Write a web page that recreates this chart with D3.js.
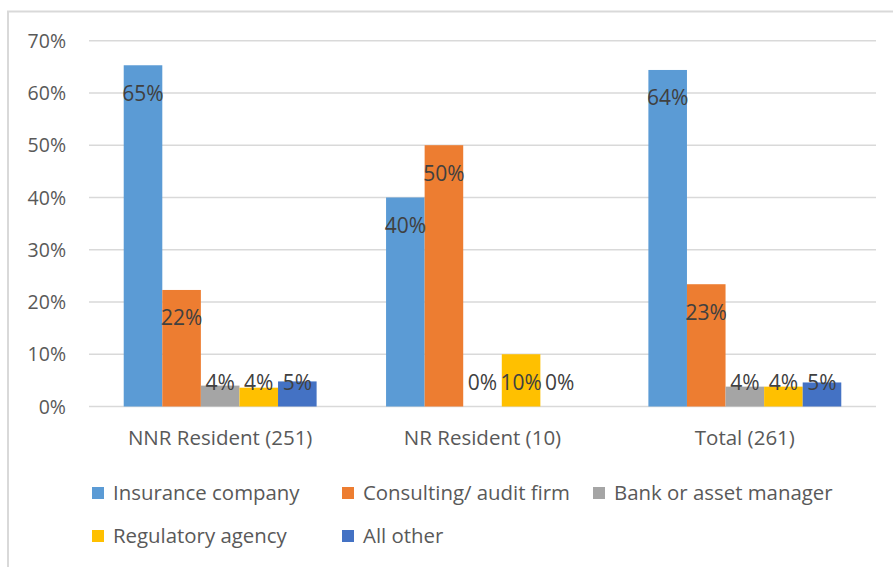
<!DOCTYPE html>
<html>
<head>
<meta charset="utf-8">
<script src="https://cdn.jsdelivr.net/npm/d3@7"></script>
<style>
  html, body { margin: 0; padding: 0; background: #fff; }
  svg { display: block; font-family: "Open Sans", sans-serif; }
</style>
</head>
<body>
<svg id="chart" width="893" height="567"></svg>
<script>
const categories = ["NNR Resident (251)", "NR Resident (10)", "Total (261)"];
const seriesNames = ["Insurance company", "Consulting/ audit firm", "Bank or asset manager", "Regulatory agency", "All other"];
const seriesColors = ["#5B9BD5", "#ED7D31", "#A5A5A5", "#FFC000", "#4472C4"];
const insurance = [0.653, 0.40, 0.644];
const consulting = [0.223, 0.50, 0.234];
const bank = [0.040, 0.00, 0.038];
const regulatory = [0.036, 0.10, 0.038];
const allOther = [0.048, 0.00, 0.046];
const yTicks = [0, 0.1, 0.2, 0.3, 0.4, 0.5, 0.6, 0.7];

const values = [insurance, consulting, bank, regulatory, allOther];
const svg = d3.select("#chart");

// frame
svg.append("line").attr("x1", 8).attr("x2", 8).attr("y1", 11).attr("y2", 567)
  .attr("stroke", "#d9d9d9").attr("stroke-width", 2);
svg.append("line").attr("x1", 7).attr("x2", 893).attr("y1", 11.5).attr("y2", 11.5)
  .attr("stroke", "#d9d9d9").attr("stroke-width", 2);

const y = d3.scaleLinear().domain([0, 0.7]).range([406.5, 40.7]);
const x0 = d3.scaleBand().domain(categories).range([89, 876]).padding(0);
const x1 = d3.scaleBand().domain(seriesNames).range([0, x0.bandwidth()]).paddingInner(0).paddingOuter(0.9);

// gridlines
svg.append("g").selectAll("line").data(yTicks).join("line")
  .attr("x1", 89).attr("x2", 876)
  .attr("y1", d => y(d)).attr("y2", d => y(d))
  .attr("stroke", "#d9d9d9").attr("stroke-width", 1.5);

// y axis labels
const yAxis = d3.axisLeft(y).tickValues(yTicks).tickFormat(d3.format(".0%")).tickSize(0).tickPadding(0);
const ya = svg.append("g").attr("transform", "translate(66,0)").call(yAxis);
ya.select(".domain").remove();
ya.selectAll("text").attr("fill", "#595959").style("font-size", "19.5px")
  .style("font-family", "'Open Sans', sans-serif").attr("dy", "0.34em");

// bars
const groups = svg.append("g").selectAll("g").data(categories).join("g")
  .attr("transform", c => `translate(${x0(c)},0)`);

groups.each(function(c, ci) {
  const g = d3.select(this);
  const data = seriesNames.map((s, si) => ({ s, si, v: values[si][ci] }));
  g.selectAll("rect").data(data).join("rect")
    .attr("x", d => x1(d.s))
    .attr("width", x1.bandwidth())
    .attr("y", d => y(d.v))
    .attr("height", d => y(0) - y(d.v))
    .attr("fill", d => seriesColors[d.si]);
  g.selectAll("text").data(data).join("text")
    .attr("x", d => x1(d.s) + x1.bandwidth() / 2)
    .attr("y", d => Math.min(y(d.v) + 28, y(0) - 24))
    .attr("dy", "0.35em")
    .attr("text-anchor", "middle")
    .attr("fill", "#404040")
    .style("font-size", "21px")
    .text(d => d3.format(".0%")(d.v));
});

// category axis
const xAxis = d3.axisBottom(x0).tickSize(0).tickPadding(0);
const xa = svg.append("g").attr("transform", "translate(0,445)").call(xAxis);
xa.select(".domain").remove();
xa.selectAll("text").attr("fill", "#595959").attr("dy", "0").style("font-size", "20.5px")
  .style("font-family", "'Open Sans', sans-serif");

// legend
const legendPos = [[92, 487], [342, 487], [593, 487], [92, 530], [342, 530]];
const lg = svg.append("g").selectAll("g").data(seriesNames).join("g")
  .attr("transform", (d, i) => `translate(${legendPos[i][0]},${legendPos[i][1]})`);
lg.append("rect").attr("width", 12).attr("height", 12).attr("fill", (d, i) => seriesColors[i]);
lg.append("text").attr("x", 21).attr("y", 6).attr("dy", "0.35em")
  .attr("fill", "#595959").style("font-size", "20.4px").text(d => d);
</script>
</body>
</html>
